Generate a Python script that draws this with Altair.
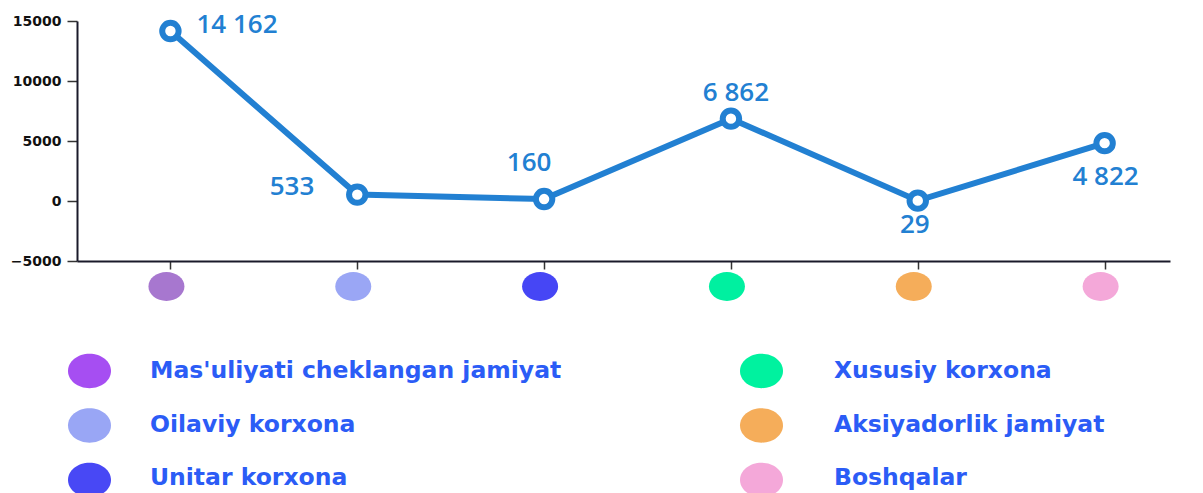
import altair as alt
import pandas as pd

# ---- data ----
categories = ["Mas'uliyati cheklangan jamiyat", "Oilaviy korxona", "Unitar korxona",
              "Xususiy korxona", "Aksiyadorlik jamiyat", "Boshqalar"]
values = [14162, 533, 160, 6862, 29, 4822]
y_ticks = [-5000, 0, 5000, 10000, 15000]

dot_colors = ["#a777cf", "#9aa6f5", "#4646f5", "#00f0a0", "#f5ad5a", "#f4a8d9"]
legend_colors = ["#a64ef2", "#99a6f5", "#4848f5", "#00f29f", "#f5ad5a", "#f4a8d9"]
legend_col = [0, 0, 0, 1, 1, 1]
legend_row = [0, 1, 2, 0, 1, 2]

# label placement styles (align, dx, dy) per point
label_style = [("left", 26, -6), ("right", -43, -8), ("center", -15, -36),
               ("center", 5, -26), ("center", -3, 24), ("center", 1, 34)]

LINE = "#2280d2"
TEXT_BLUE = "#2b5cf6"
ELLIPSE = "M-1,0A1,0.8,0,1,1,1,0A1,0.8,0,1,1,-1,0Z"

df = pd.DataFrame({
    "idx": list(range(len(categories))),
    "cat": categories,
    "value": values,
    "label": [f"{v:,}".replace(",", " ") for v in values],
})
leg = pd.DataFrame({"cat": categories, "col": legend_col, "row": legend_row})

xs = alt.Scale(domain=[-0.5, 5.35], nice=False, zero=False)
ys = alt.Scale(domain=[-5000, 15000], nice=False, zero=False)

base = alt.Chart(df)

x_axis = alt.Axis(values=list(range(6)), labels=False, title=None, grid=False,
                  tickSize=8, tickColor="#333333", tickWidth=1.5,
                  domainColor="#1a1a2a", domainWidth=2)
y_axis = alt.Axis(values=y_ticks, title=None, grid=False, tickSize=10,
                  tickColor="#333333", tickWidth=1.5, domainColor="#1a1a2a",
                  domainWidth=2, labelFont="DejaVu Sans", labelFontWeight="bold",
                  labelFontSize=14, labelColor="#111111", labelPadding=6,
                  format="d")

X = alt.X("idx:Q", scale=xs, axis=x_axis)
Y = alt.Y("value:Q", scale=ys, axis=y_axis)

line = base.mark_line(color=LINE, strokeWidth=6).encode(x=X, y=Y)
points = base.mark_point(shape="circle", filled=True, fill="white", stroke=LINE,
                         strokeWidth=6, size=270, opacity=1).encode(x=X, y=Y)
labels = []
for i, (al, dx, dy) in enumerate(label_style):
    labels.append(
        base.transform_filter(alt.datum.idx == i).mark_text(
            align=al, baseline="middle", dx=dx, dy=dy, font="Open Sans",
            fontSize=26, fontWeight=600, color=LINE
        ).encode(x=X, y=Y, text="label:N")
    )
dots = base.mark_point(shape=ELLIPSE, filled=True, size=1296, opacity=1).encode(
    x=X,
    xOffset=alt.value(-4),
    y=alt.value(265.5),
    color=alt.Color("cat:N", scale=alt.Scale(domain=categories, range=dot_colors), legend=None),
)

main = alt.layer(line, points, *labels, dots)

leg_base = alt.Chart(leg)
leg_ell = leg_base.mark_point(shape=ELLIPSE, filled=True, size=1849, opacity=1).encode(
    x=alt.X("col:Q", scale=alt.Scale(domain=[0, 1], range=[12.5, 684.5]), axis=None),
    y=alt.Y("row:Q", scale=alt.Scale(domain=[0, 2], range=[350, 459]), axis=None),
    color=alt.Color("cat:N", scale=alt.Scale(domain=categories, range=legend_colors), legend=None),
)
leg_txt = leg_base.mark_text(align="left", baseline="middle", font="DejaVu Sans",
                             fontWeight="bold", fontSize=23.5, color=TEXT_BLUE).encode(
    x=alt.X("col:Q", scale=alt.Scale(domain=[0, 1], range=[73, 757]), axis=None),
    y=alt.Y("row:Q", scale=alt.Scale(domain=[0, 2], range=[350, 457]), axis=None),
    text="cat:N",
)

chart = alt.layer(main, leg_ell, leg_txt).resolve_scale(
    x="independent", y="independent", color="independent"
).properties(
    width=1093, height=240,
    autosize=alt.AutoSizeParams(type="none"),
    padding={"left": 69, "top": 13, "right": 17, "bottom": 234},
    background="white",
).configure_view(stroke=None)

chart.save("out.html", embed_options={"renderer": "svg", "actions": False})
